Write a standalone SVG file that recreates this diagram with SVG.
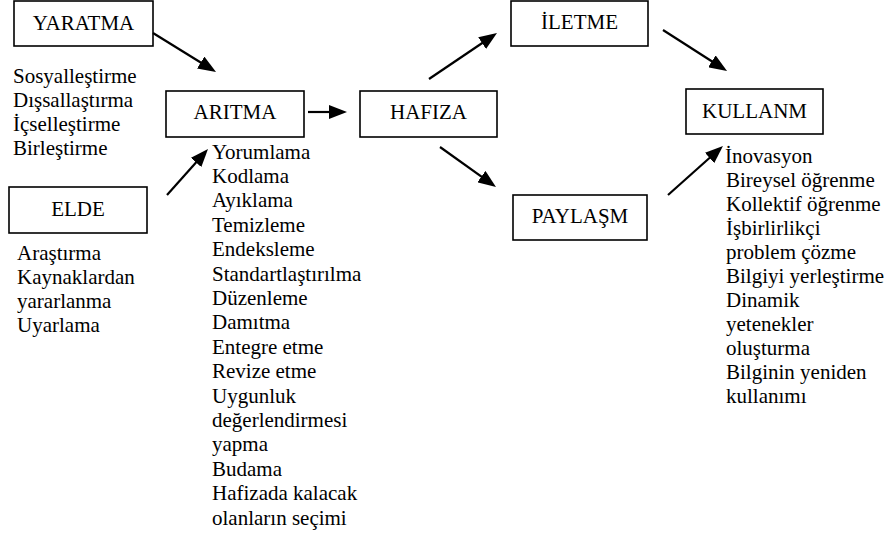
<svg xmlns="http://www.w3.org/2000/svg" width="892" height="537" viewBox="0 0 892 537">
<style>
  .box { fill: #fff; stroke: #000; stroke-width: 1.6; }
  text { font-family: 'Liberation Serif', Tinos, 'Times New Roman', Times, 'DejaVu Serif', serif; font-size: 21px; fill: #000; }
  .c { text-anchor: middle; }
  .edge { stroke: #000; stroke-width: 2.2; fill: none; marker-end: url(#ah); }
</style>
<defs>
  <marker id="ah" viewBox="0 0 18 14" refX="10" refY="7" markerWidth="18" markerHeight="14" markerUnits="userSpaceOnUse" orient="auto">
    <path d="M0,0 L18,7 L0,14 Z" fill="#000"/>
  </marker>
</defs>
<rect width="892" height="537" fill="#fff"/>

<g id="yaratma">
  <rect class="box" x="14" y="1" width="139" height="45"/>
  <text class="c" x="83.5" y="30">YARATMA</text>
  <text x="13" y="83">Sosyalleştirme</text>
  <text x="13" y="107">Dışsallaştırma</text>
  <text x="13" y="131">İçselleştirme</text>
  <text x="13" y="155">Birleştirme</text>
</g>

<g id="elde">
  <rect class="box" x="9" y="187" width="138" height="46"/>
  <text class="c" x="78" y="216">ELDE</text>
  <text x="17" y="260">Araştırma</text>
  <text x="17" y="284">Kaynaklardan</text>
  <text x="17" y="308">yararlanma</text>
  <text x="17" y="332">Uyarlama</text>
</g>

<g id="aritma">
  <rect class="box" x="166" y="91" width="138" height="46"/>
  <text class="c" x="235" y="119">ARITMA</text>
  <text x="212" y="158.5">Yorumlama</text>
  <text x="212" y="182.9">Kodlama</text>
  <text x="212" y="207.3">Ayıklama</text>
  <text x="212" y="231.7">Temizleme</text>
  <text x="212" y="256.1">Endeksleme</text>
  <text x="212" y="280.5">Standartlaştırılma</text>
  <text x="212" y="304.9">Düzenleme</text>
  <text x="212" y="329.3">Damıtma</text>
  <text x="212" y="353.7">Entegre etme</text>
  <text x="212" y="378.1">Revize etme</text>
  <text x="212" y="402.5">Uygunluk</text>
  <text x="212" y="426.9">değerlendirmesi</text>
  <text x="212" y="451.3">yapma</text>
  <text x="212" y="475.7">Budama</text>
  <text x="212" y="500.1">Hafizada kalacak</text>
  <text x="212" y="524.5">olanların seçimi</text>
</g>

<g id="hafiza">
  <rect class="box" x="360" y="91" width="137" height="46"/>
  <text class="c" x="428.5" y="119">HAFIZA</text>
</g>

<g id="iletme">
  <rect class="box" x="511" y="1" width="137" height="45"/>
  <text class="c" x="579.5" y="29">İLETME</text>
</g>

<g id="paylasm">
  <rect class="box" x="513" y="195" width="134" height="45"/>
  <text class="c" x="580" y="223">PAYLAŞM</text>
</g>

<g id="kullanm">
  <rect class="box" x="686" y="89" width="137" height="45"/>
  <text class="c" x="754.5" y="118">KULLANM</text>
  <text x="725" y="163">İnovasyon</text>
  <text x="726" y="187">Bireysel öğrenme</text>
  <text x="726" y="211">Kollektif öğrenme</text>
  <text x="726" y="235">İşbirlirlikçi</text>
  <text x="726" y="259">problem çözme</text>
  <text x="726" y="283">Bilgiyi yerleştirme</text>
  <text x="726" y="307">Dinamik</text>
  <text x="726" y="331">yetenekler</text>
  <text x="726" y="355">oluşturma</text>
  <text x="726" y="379">Bilginin yeniden</text>
  <text x="726" y="403">kullanımı</text>
</g>

<g id="connectors">
  <line class="edge" x1="153" y1="33" x2="209.2" y2="67.8"/>
  <line class="edge" x1="167" y1="195" x2="202.7" y2="155"/>
  <line class="edge" x1="308" y1="112" x2="339" y2="112"/>
  <line class="edge" x1="429" y1="79" x2="490.4" y2="37.5"/>
  <line class="edge" x1="440" y1="147" x2="489.5" y2="182.4"/>
  <line class="edge" x1="663" y1="30" x2="720.3" y2="66.7"/>
  <line class="edge" x1="668" y1="195" x2="717" y2="151.3"/>
</g>
</svg>
